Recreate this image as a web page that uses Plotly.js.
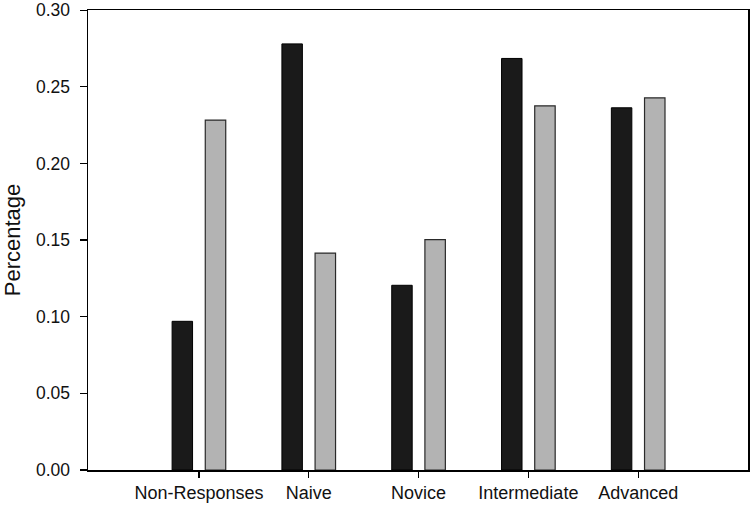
<!DOCTYPE html>
<html>
<head>
<meta charset="utf-8">
<script src="https://cdn.plot.ly/plotly-3.0.1.min.js"></script>
<style>html,body{margin:0;padding:0;background:#fff;}#chart{width:750px;height:506px;}</style>
</head>
<body>
<div id="chart"></div>
<script>
const categories = ["Non-Responses", "Naive", "Novice", "Intermediate", "Advanced"];
const seriesDark = [0.097, 0.278, 0.1205, 0.2685, 0.2363];
const seriesGray = [0.2283, 0.1415, 0.1503, 0.2376, 0.2428];
const yTickVals = [0, 0.05, 0.10, 0.15, 0.20, 0.25, 0.30];
const yTickText = ["0.00", "0.05", "0.10", "0.15", "0.20", "0.25", "0.30"];

const font = {family: "Liberation Sans, Arial, sans-serif", color: "#111"};

const traces = [
  {type: "bar", x: categories, y: seriesDark, name: "A",
   marker: {color: "#1a1a1a", line: {color: "#000", width: 1}}},
  {type: "bar", x: categories, y: seriesGray, name: "B",
   marker: {color: "#b3b3b3", line: {color: "#2a2a2a", width: 1.2}}}
];

const layout = {
  width: 750, height: 506,
  margin: {l: 88, r: 2, t: 10, b: 36},
  paper_bgcolor: "#fff", plot_bgcolor: "#fff",
  showlegend: false,
  barmode: "group", bargap: 0.396, bargroupgap: 0.383,
  font: font,
  xaxis: {
    range: [-1.01, 5], type: "category",
    showline: true, linecolor: "#000", linewidth: 1.5, mirror: true,
    ticks: "outside", ticklen: 6, tickwidth: 1.2, tickcolor: "#000",
    showgrid: false, zeroline: false,
    tickfont: {family: font.family, size: 18, color: "#111"}
  },
  yaxis: {
    range: [0, 0.3001],
    tickvals: yTickVals, ticktext: yTickText,
    ticklabeloverflow: "allow",
    showline: true, linecolor: "#000", linewidth: 1.5, mirror: true,
    ticks: "outside", ticklen: 7, tickwidth: 1.2, tickcolor: "#000",
    ticklabelstandoff: 6,
    showgrid: false, zeroline: false,
    tickfont: {family: font.family, size: 17.5, color: "#111"},
    title: {text: "Percentage", font: {family: font.family, size: 22, color: "#111"}, standoff: 14}
  }
};

Plotly.newPlot("chart", traces, layout, {displayModeBar: false, staticPlot: true});
</script>
</body>
</html>
